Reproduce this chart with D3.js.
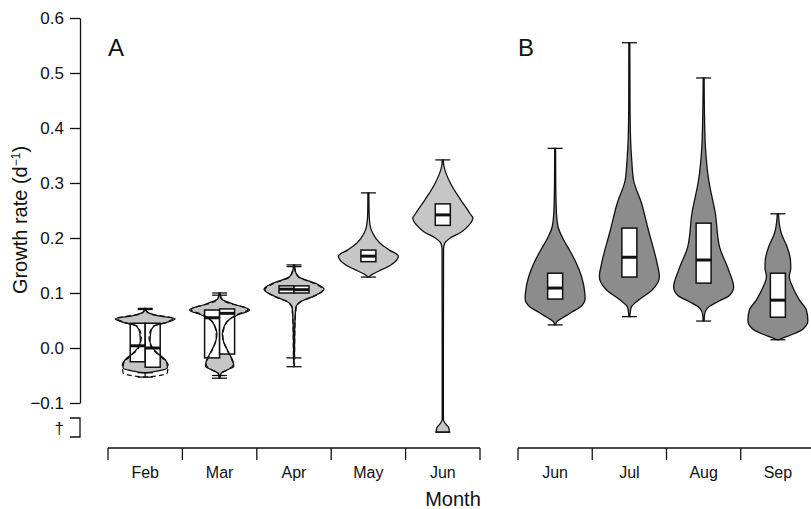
<!DOCTYPE html>
<html>
<head>
<meta charset="utf-8">
<script src="https://cdn.jsdelivr.net/npm/d3@7"></script>
<style>
  body { margin: 0; background: #fff; }
  text { font-family: "Liberation Sans", Arial, sans-serif; fill: #111; }
</style>
</head>
<body>
<svg id="chart" width="811" height="509"></svg>
<script>
const monthsA = ["Feb", "Mar", "Apr", "May", "Jun"];
const monthsB = ["Jun", "Jul", "Aug", "Sep"];
const yTicks = [-0.1, 0, 0.1, 0.2, 0.3, 0.4, 0.5, 0.6];

// violin outlines: [growth rate, relative half-width]
const febG1 = [[0.072,0.015],[0.066,0.05],[0.059,0.4],[0.053,1.0],[0.047,0.75],[0.040,0.3],[0.030,0.19],[0.012,0.16],[0.000,0.25],[-0.010,0.42],[-0.024,0.7],[-0.036,0.74],[-0.042,0.4],[-0.045,0.02]];
const febG2 = [[0.070,0.015],[0.062,0.15],[0.054,0.95],[0.047,0.72],[0.039,0.25],[0.020,0.13],[0.000,0.22],[-0.015,0.5],[-0.030,0.76],[-0.045,0.74],[-0.051,0.35],[-0.053,0.02]];
const marG1 = [[0.100,0.015],[0.090,0.05],[0.080,0.45],[0.069,1.0],[0.060,0.6],[0.053,0.35],[0.040,0.16],[0.025,0.09],[0.010,0.14],[-0.010,0.32],[-0.025,0.45],[-0.033,0.47],[-0.040,0.25],[-0.046,0.05],[-0.055,0.015]];
const marG2 = [[0.096,0.015],[0.085,0.15],[0.070,0.95],[0.060,0.55],[0.050,0.28],[0.035,0.14],[0.020,0.11],[0.000,0.22],[-0.020,0.4],[-0.030,0.45],[-0.040,0.25],[-0.045,0.06],[-0.050,0.015]];
const aprG1 = [[0.151,0.015],[0.140,0.04],[0.129,0.16],[0.118,0.7],[0.107,1.0],[0.093,0.6],[0.084,0.22],[0.073,0.06],[0.050,0.035],[0.020,0.02],[-0.018,0.015]];
const aprG2 = [[0.148,0.015],[0.129,0.15],[0.118,0.65],[0.106,0.97],[0.093,0.62],[0.084,0.22],[0.073,0.07],[0.040,0.03],[0.000,0.02],[-0.034,0.015]];
const mayA = [[0.282,0.015],[0.250,0.02],[0.225,0.05],[0.209,0.14],[0.191,0.38],[0.178,0.7],[0.167,1.0],[0.151,0.75],[0.140,0.35],[0.133,0.1],[0.129,0.02]];
const junA = [[0.342,0.015],[0.330,0.04],[0.300,0.25],[0.269,0.6],[0.245,0.9],[0.236,1.0],[0.222,0.85],[0.211,0.62],[0.200,0.25],[0.190,0.06],[0.180,0.025],[0.000,0.02],[-0.130,0.02],[-0.137,0.08],[-0.145,0.2],[-0.153,0.22]];
const junB = [[0.363,0.015],[0.300,0.02],[0.250,0.04],[0.220,0.1],[0.200,0.25],[0.180,0.46],[0.155,0.7],[0.130,0.88],[0.100,0.99],[0.090,1.0],[0.075,0.85],[0.065,0.55],[0.055,0.25],[0.048,0.06],[0.042,0.015]];
const julB = [[0.555,0.015],[0.450,0.02],[0.380,0.04],[0.340,0.08],[0.305,0.14],[0.264,0.4],[0.215,0.63],[0.155,0.92],[0.130,1.0],[0.105,0.75],[0.088,0.33],[0.075,0.07],[0.065,0.03],[0.057,0.015]];
const augB = [[0.491,0.015],[0.420,0.03],[0.365,0.06],[0.305,0.17],[0.245,0.39],[0.184,0.53],[0.142,0.83],[0.111,1.0],[0.095,0.85],[0.085,0.5],[0.072,0.12],[0.060,0.03],[0.049,0.015]];
const sepB = [[0.244,0.02],[0.225,0.05],[0.209,0.11],[0.185,0.3],[0.160,0.42],[0.145,0.43],[0.130,0.38],[0.110,0.5],[0.087,0.72],[0.069,0.95],[0.050,1.0],[0.035,0.85],[0.025,0.5],[0.018,0.15],[0.015,0.02]];

// box stats: [q1, median, q3]
const violinsA = [
    { month: "Feb", group: 1, shape: febG1, box: [-0.025, 0.004, 0.045] },
    { month: "Feb", group: 2, shape: febG2, box: [-0.035, 0.000, 0.045] },
    { month: "Mar", group: 1, shape: marG1, box: [-0.018, 0.055, 0.069] },
    { month: "Mar", group: 2, shape: marG2, box: [-0.011, 0.063, 0.071] },
    { month: "Apr", group: 1, shape: aprG1, box: [0.100, 0.107, 0.113] },
    { month: "Apr", group: 2, shape: aprG2, box: [0.100, 0.106, 0.113] },
    { month: "May", group: 1, shape: mayA, box: [0.157, 0.167, 0.178] },
    { month: "Jun", group: 1, shape: junA, box: [0.223, 0.242, 0.262] }
];
const violinsB = [
    { month: "Jun", group: 1, shape: junB, box: [0.089, 0.109, 0.136] },
    { month: "Jul", group: 1, shape: julB, box: [0.129, 0.165, 0.218] },
    { month: "Aug", group: 1, shape: augB, box: [0.118, 0.160, 0.227] },
    { month: "Sep", group: 1, shape: sepB, box: [0.056, 0.087, 0.136] }
];

const svg = d3.select("#chart");
const y = d3.scaleLinear().domain([-0.1, 0.6]).range([403, 18]);
const halfWidth = d3.scaleLinear().domain([0, 1]).range([0, 30]);
const boxW = 15, capW = 15, axisY = 448;

// y axis
svg.append("g")
    .attr("transform", "translate(80,0)")
    .call(d3.axisLeft(y).tickValues(yTicks).tickFormat(d3.format(".1f")).tickSize(10).tickSizeOuter(0).tickPadding(6))
    .call(g => g.selectAll("text").attr("font-size", 17))
    .call(g => g.selectAll("path, line").attr("stroke", "#111").attr("stroke-width", 1.3));

svg.append("path")
    .attr("d", "M70,418H80V437H70")
    .attr("fill", "none").attr("stroke", "#111").attr("stroke-width", 1.3);
svg.append("text")
    .attr("x", 64).attr("y", 428).attr("dy", "0.35em")
    .attr("text-anchor", "end").attr("font-size", 17).text("†");

svg.append("text")
    .attr("transform", "translate(27,220) rotate(-90)")
    .attr("text-anchor", "middle").attr("font-size", 20)
    .text("Growth rate (d")
    .append("tspan").attr("baseline-shift", "super").attr("font-size", 12).text("−1")
    .select(function() { return this.parentNode; })
    .append("tspan").text(")");

const drawPanel = (months, violins, range, fill, label) => {
    const x = d3.scaleBand().domain(months).range(range);
    const g = svg.append("g");
    const perMonth = d3.rollup(violins, v => v.length, d => d.month);
    const cx = d => x(d.month) + x.bandwidth() / 2;
    const boxX = d => perMonth.get(d.month) > 1 ? cx(d) - (d.group === 1 ? boxW : 0) : cx(d) - boxW / 2;
    const top = d => d.shape[0][0];
    const bottom = d => d.shape[d.shape.length - 1][0];
    const outline = d => d3.area()
        .curve(d3.curveMonotoneY)
        .y(p => y(p[0]))
        .x0(p => cx(d) - halfWidth(p[1]))
        .x1(p => cx(d) + halfWidth(p[1]))(d.shape);

    g.selectAll(".whisker").data(violins).join("line")
        .attr("x1", cx).attr("x2", cx)
        .attr("y1", d => y(top(d))).attr("y2", d => y(bottom(d)))
        .attr("stroke", "#111").attr("stroke-width", 1.3);

    g.selectAll(".fill").data(violins.filter(d => d.group === 1)).join("path")
        .attr("d", outline).attr("fill", fill).attr("stroke", "none");

    g.selectAll(".cap").data(violins.flatMap(d => [[d, top(d)], [d, bottom(d)]])).join("line")
        .attr("x1", c => cx(c[0]) - capW / 2).attr("x2", c => cx(c[0]) + capW / 2)
        .attr("y1", c => y(c[1])).attr("y2", c => y(c[1]))
        .attr("stroke", "#111").attr("stroke-width", 1.3);

    g.selectAll(".box").data(violins).join("rect")
        .attr("x", boxX).attr("width", boxW)
        .attr("y", d => y(d.box[2])).attr("height", d => y(d.box[0]) - y(d.box[2]))
        .attr("fill", "#fff").attr("stroke", "#111").attr("stroke-width", 1.5);

    g.selectAll(".median").data(violins).join("line")
        .attr("x1", boxX).attr("x2", d => boxX(d) + boxW)
        .attr("y1", d => y(d.box[1])).attr("y2", d => y(d.box[1]))
        .attr("stroke", "#111").attr("stroke-width", 3);

    g.selectAll(".outline").data(violins).join("path")
        .attr("d", outline).attr("fill", "none")
        .attr("stroke", "#111").attr("stroke-width", 1.3)
        .attr("stroke-dasharray", d => d.group === 2 ? "5,3" : null);

    // x axis: line with ticks at the band edges
    const edges = months.map(m => x(m)).concat([range[1]]);
    g.append("path")
        .attr("d", `M${range[0]},${axisY}H${range[1]}`)
        .attr("stroke", "#111").attr("stroke-width", 1.3);
    g.selectAll(".xtick").data(edges).join("line")
        .attr("x1", d => d).attr("x2", d => d)
        .attr("y1", axisY).attr("y2", axisY + 12)
        .attr("stroke", "#111").attr("stroke-width", 1.3);
    g.selectAll(".xlabel").data(months).join("text")
        .attr("x", m => x(m) + x.bandwidth() / 2).attr("y", 478)
        .attr("text-anchor", "middle").attr("font-size", 16)
        .text(m => m);

    svg.append("text")
        .attr("x", range[0]).attr("y", 56)
        .attr("font-size", 24).text(label);
};

drawPanel(monthsA, violinsA, [108, 480], "#c6c6c6", "A");
drawPanel(monthsB, violinsB, [518, 815], "#8c8c8c", "B");

svg.append("text")
    .attr("x", 453).attr("y", 506)
    .attr("text-anchor", "middle").attr("font-size", 20)
    .text("Month");
</script>
</body>
</html>
